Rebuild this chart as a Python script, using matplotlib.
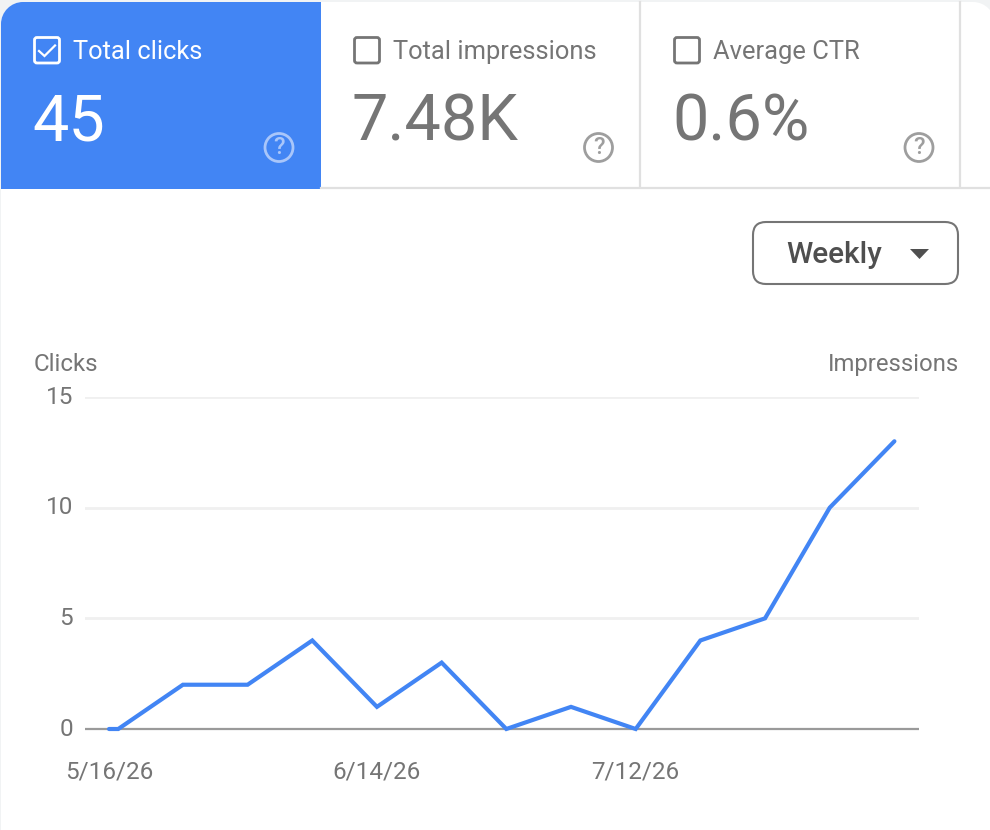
import matplotlib
matplotlib.use("Agg")
import matplotlib.pyplot as plt
import matplotlib.dates as mdates
from matplotlib.patches import FancyBboxPatch, Circle, Polygon, PathPatch
from matplotlib.path import Path
from datetime import date

plt.rcParams['font.family'] = ['Roboto', 'DejaVu Sans']

dates = ["2026-05-16", "2026-05-17", "2026-05-24", "2026-05-31", "2026-06-07",
         "2026-06-14", "2026-06-21", "2026-06-28", "2026-07-05", "2026-07-12",
         "2026-07-19", "2026-07-26", "2026-08-02", "2026-08-09"]
clicks = [0, 0, 2, 2, 4, 1, 3, 0, 1, 0, 4, 5, 10, 13]
y_ticks = [0, 5, 10, 15]
x_ticks = ["2026-05-16", "2026-06-14", "2026-07-12"]
x_tick_labels = ["5/16/26", "6/14/26", "7/12/26"]
cards = [("Total clicks", "45"), ("Total impressions", "7.48K"), ("Average CTR", "0.6%")]

W, H = 990, 830
BLUE = "#4285f4"
GREY = "#757575"

fig = plt.figure(figsize=(W / 100, H / 100), dpi=100, facecolor="#f1f3f4")
ui = fig.add_axes([0, 0, 1, 1], zorder=0)
ui.set_xlim(0, W)
ui.set_ylim(H, 0)
ui.axis("off")

def rounded_panel(ax, x0, y0, x1, y1, rl, rr, **kw):
    k = 0.55
    v = [(x0, y1), (x0, y0 + rl), (x0, y0 + rl * (1 - k)), (x0 + rl * (1 - k), y0), (x0 + rl, y0),
         (x1 - rr, y0), (x1 - rr * (1 - k), y0), (x1, y0 + rr * (1 - k)), (x1, y0 + rr), (x1, y1), (x0, y1)]
    c = [Path.MOVETO, Path.LINETO, Path.CURVE4, Path.CURVE4, Path.CURVE4,
         Path.LINETO, Path.CURVE4, Path.CURVE4, Path.CURVE4, Path.LINETO, Path.CLOSEPOLY]
    ax.add_patch(PathPatch(Path(v, c), **kw))

# page and selected card
rounded_panel(ui, 1, 2, 995, 835, 22, 22, fc="white", ec="none", zorder=1)
rounded_panel(ui, 1, 2, 321, 189, 22, 0, fc=BLUE, ec="none", zorder=2)

# separators
ui.plot([321, 990], [188, 188], color="#e0e0e0", lw=1.6, zorder=2)
for xs in (640, 960):
    ui.plot([xs, xs], [2, 187], color="#e0e0e0", lw=1.6, zorder=2)

card_x = [33, 353, 673]
help_x = [279.5, 599, 919.5]
for i, ((title, val), cx, hx) in enumerate(zip(cards, card_x, help_x)):
    col = "white" if i == 0 else GREY
    ui.add_patch(FancyBboxPatch((cx + 1.5, 37.5), 25, 25.5, boxstyle="round,pad=0,rounding_size=2.5",
                                fc="none", ec=col, lw=2.0, zorder=3))
    if i == 0:
        ui.plot([cx + 6, cx + 11.5, cx + 22], [51, 56, 45.5], color="white", lw=1.6,
                solid_joinstyle="miter", zorder=4)
    ui.text(cx + 39.8, 52, title, color=col, fontsize=18.4, va="center", ha="left", zorder=4)
    ui.text(cx - 1, 122.5, val, color=col, fontsize=46.6, va="center", ha="left", zorder=4)
    hc = "#a9c6fa" if i == 0 else "#9e9e9e"
    ui.add_patch(Circle((hx - 0.5, 147.5), 14, fc="none", ec=hc, lw=2.0, zorder=4))
    ui.text(hx - 0.5, 148, "?", color=hc, fontsize=17, fontweight="medium",
            va="center", ha="center", zorder=4)

# Weekly dropdown
ui.add_patch(FancyBboxPatch((753, 222), 205, 62, boxstyle="round,pad=0,rounding_size=13",
                            fc="white", ec="#757575", lw=1.5, zorder=3))
ui.text(786.5, 255, "Weekly", color="#4f4f4f", fontsize=21.5, fontweight="medium",
        va="center", ha="left", zorder=4)
ui.add_patch(Polygon([(910, 249), (929, 249), (919.5, 259)], fc="#4f4f4f", ec="none", zorder=4))

# axis titles
ui.text(33.5, 364, "Clicks", color=GREY, fontsize=17.4, va="center", ha="left", zorder=4)
ui.text(959, 364, "Impressions", color=GREY, fontsize=17.2, va="center", ha="right", zorder=4)

# chart: x px 85..919, y px 397 (15) .. 729 (0)
ax = fig.add_axes([85 / W, 1 - 729 / H, (919 - 85) / W, (729 - 397) / H], zorder=2)
ax.patch.set_alpha(0)
x = [date.fromisoformat(d) for d in dates]
x_num = mdates.date2num(x)
first = x_num[0]
px_per_day = 9.24
ax.set_xlim(first - (109 - 85) / px_per_day, first + (919 - 109) / px_per_day)
ax.set_ylim(0, 15)
for s in ("top", "right", "left"):
    ax.spines[s].set_visible(False)
ax.spines["bottom"].set_color("#9a9a9a")
ax.spines["bottom"].set_linewidth(1.6)
ax.spines["bottom"].set_capstyle("butt")
ax.set_yticks(y_ticks)
ax.set_xticks(mdates.date2num([date.fromisoformat(d) for d in x_ticks]))
ax.set_xticklabels(x_tick_labels)
ax.tick_params(axis="both", length=0, labelsize=17.5, labelcolor=GREY)
ax.tick_params(axis="x", pad=22.5)
ax.tick_params(axis="y", pad=8.5)
for lab in ax.get_yticklabels():
    lab.set_verticalalignment("center")
ax.grid(axis="y", color="#f0f0f0", lw=2.0)
ax.set_axisbelow(True)
ax.plot(x_num, clicks, color=BLUE, lw=3.0, clip_on=False, solid_joinstyle="miter",
        solid_capstyle="round", zorder=5)

fig.savefig("out.png", dpi=100, facecolor=fig.get_facecolor())
